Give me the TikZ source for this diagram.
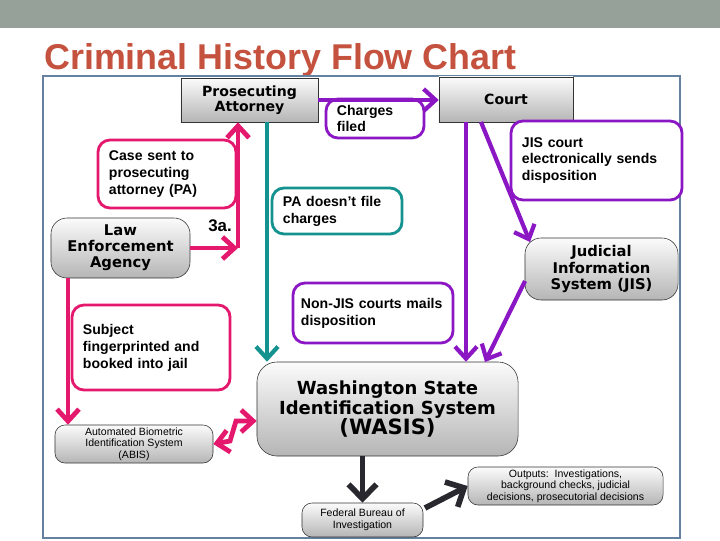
\documentclass[tikz,border=0pt]{standalone}
\usepackage{fontspec}
\setmainfont{Liberation Sans}
\newfontfamily\labelfont{DejaVu Sans}
\usepackage{tikz}
\usetikzlibrary{arrows.meta}
\definecolor{bannergray}{RGB}{149,161,153}
\definecolor{titlered}{RGB}{196,82,62}
\definecolor{framecol}{RGB}{100,130,160}
\definecolor{pinkc}{RGB}{228,24,108}
\definecolor{purplec}{RGB}{138,22,196}
\definecolor{tealc}{RGB}{20,146,143}
\definecolor{arrowblack}{RGB}{40,40,46}

\begin{document}
\begin{tikzpicture}[x=0.025cm, y=-0.025cm,
    graybox/.style={draw=gray!40!black, top color=gray!3, bottom color=gray!58,
      align=center, inner sep=1pt,
      font=\labelfont\bfseries\fontsize{10.5}{11.5}\selectfont},
    smallbox/.style={graybox, rounded corners=2.5mm,
      font=\fontsize{7.5}{8.2}\selectfont},
    notebox/.style={draw, fill=white, line width=2pt, rounded corners=3mm,
      align=left, inner xsep=0.275cm, font=\bfseries\fontsize{10}{12}\selectfont},
    flow/.style={line width=3pt, -{Straight Barb[length=3mm,width=5.5mm]}},
    pinkflow/.style={flow, pinkc, line width=3.4pt},
    purpleflow/.style={flow, purplec},
    tealflow/.style={flow, tealc},
    blackflow/.style={arrowblack, line width=4pt,
      -{Straight Barb[length=3.6mm,width=7mm]}}]

\useasboundingbox (0,0) rectangle (720,540);

% ---- slide heading ----
\fill[bannergray] (0,0) rectangle (720,28);
\node[anchor=base west, inner sep=0, text=titlered,
  font=\bfseries\fontsize{25.5}{28}\selectfont] (title) at (44,69) {Criminal History Flow Chart};
\draw[framecol, line width=1.4pt] (43,76) rectangle (680,538);

% ---- agencies and systems ----
\node[graybox, minimum width=3.425cm, minimum height=1.1cm,
  font=\labelfont\bfseries\fontsize{10}{11}\selectfont] (pa) at (249.5,100) {Prosecuting\\Attorney};
\node[graybox, minimum width=3.35cm, minimum height=1.125cm,
  font=\labelfont\bfseries\fontsize{10}{11}\selectfont] (court) at (506,99.5) {Court};
\node[graybox, rounded corners=4mm, minimum width=3.475cm, minimum height=1.5cm] (lea) at (120.5,248) {Law\\Enforcement\\Agency};
\node[graybox, rounded corners=4mm, minimum width=3.825cm, minimum height=1.55cm] (jis) at (601.5,269) {Judicial\\Information\\System (JIS)};
\node[graybox, rounded corners=5mm, minimum width=6.525cm, minimum height=2.35cm,
  font=\labelfont\bfseries\fontsize{12.8}{14.2}\selectfont] (wasis) at (387.5,409)
  {Washington State\\Identification System\\{\fontsize{15}{16}\selectfont (WASIS)}};
\node[smallbox, minimum width=3.95cm, minimum height=0.95cm] (abis) at (134,444) {Automated Biometric\\Identification System\\(ABIS)};
\node[smallbox, minimum width=3.025cm, minimum height=0.85cm] (fbi) at (362.5,520) {Federal Bureau of\\Investigation};
\node[smallbox, minimum width=4.875cm, minimum height=0.95cm] (outputs) at (565.5,486) {Outputs:\ \ Investigations,\\background checks, judicial\\decisions, prosecutorial decisions};

% ---- notes ----
\node[notebox, draw=purplec, text width=1.9cm, minimum height=0.975cm] (filed) at (375,118.5) {Charges\\filed};
\node[notebox, draw=pinkc, text width=2.9cm, minimum height=1.7cm] (casesent) at (167,174) {Case sent to\\prosecuting\\attorney (PA)};
\node[notebox, draw=tealc, text width=2.7cm, minimum height=1.15cm] (nofile) at (337,211) {PA doesn’t file\\charges};
\node[notebox, draw=purplec, text width=3.725cm, minimum height=1.975cm] (jiscourt) at (596.5,160.5) {JIS court\\electronically sends\\disposition};
\node[notebox, draw=purplec, text width=3.6cm, inner xsep=0.2cm, minimum height=1.5cm] (nonjis) at (373,313) {Non-JIS courts mails\\disposition};
\node[notebox, draw=pinkc, text width=3.4cm, minimum height=2.125cm] (subject) at (151,347.5) {Subject\\fingerprinted and\\booked into jail};
\node[font=\bfseries\fontsize{12}{14}\selectfont] (lbl3a) at (220,226) {3a.};

% ---- law enforcement paths ----
\coordinate (pa up) at (238,248);
\draw[pinkflow] (lea.east) -- (pa up);
\draw[pinkflow] (pa up) -- (pa up |- pa.south);
\coordinate (lea down) at (68,278);
\draw[pinkflow] (lea down) -- (lea down |- abis.north);
\coordinate (zig a) at (230,441);
\coordinate (zig b) at (236,421);
\draw[pinkflow, {Straight Barb[length=3mm,width=5.5mm]}-{Straight Barb[length=3mm,width=5.5mm]}]
  (abis.east) -- (zig a) -- (zig b) -- (wasis.west |- zig b);

% ---- prosecutor and courts ----
\coordinate (pa foot) at (267,122);
\draw[tealflow] (pa foot) -- (pa foot |- wasis.north);
\draw[purpleflow] (pa.east) -- (pa.east -| court.west);
\coordinate (court foot) at (466,122);
\draw[purpleflow] (court foot) -- (court foot |- wasis.north);
\coordinate (court diag) at (481,122);
\coordinate (jis in) at (530,242);
\draw[purpleflow] (court diag) -- (jis in);
\coordinate (jis out) at (525,281);
\coordinate (wasis in) at (485,362);
\draw[purpleflow] (jis out) -- (wasis in);

% ---- out of WASIS ----
\draw[blackflow] (wasis.south -| fbi.north) -- (fbi.north);
\coordinate (fbi out) at (425,508);
\draw[blackflow] (fbi out) -- (outputs.west);

\end{tikzpicture}
\end{document}
